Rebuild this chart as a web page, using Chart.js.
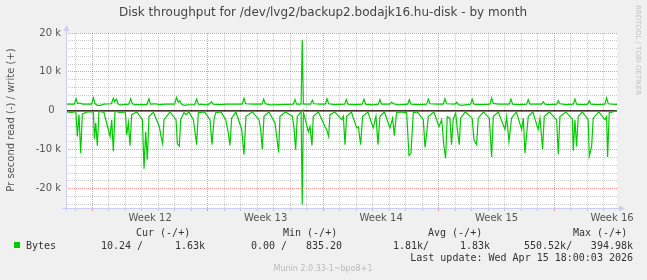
<!DOCTYPE html>
<html>
<head>
<meta charset="utf-8">
<script src="https://cdn.jsdelivr.net/npm/chart.js@4/dist/chart.umd.min.js"></script>
<style>
  html, body { margin: 0; padding: 0; background: #f0f0f0; }
  canvas { display: block; }
</style>
</head>
<body>
<canvas id="chart" width="647" height="280"></canvas>
<script>
// x values are days from the left edge of the graph
var X_MIN = 0;
var X_MAX = 33.4;
var Y_MIN = -25000;
var Y_MAX = 20000;

var weekLabels = ['Week 12', 'Week 13', 'Week 14', 'Week 15', 'Week 16'];
var weekStarts = [1.6, 8.6, 15.6, 22.6, 29.6];
var firstDayLine = 0.6;

// write (+)
var writeDays = [0, 0.5, 0.61, 0.7, 0.85, 1.0, 1.55, 1.66, 1.76, 1.9, 2.1, 2.3, 2.75, 2.87, 2.95, 3.05, 3.15, 3.3,
    3.8, 3.92, 4.02, 4.2, 4.9, 5.03, 5.12, 5.4, 5.7, 6.0, 6.58, 6.7, 6.8, 6.9, 7.0, 7.15, 7.35, 7.8, 7.92, 8.02,
    8.6, 8.82, 8.92, 9.3, 9.8, 10.0, 10.68, 10.79, 10.89, 11.3, 11.88, 11.98, 12.08, 12.4, 13.0, 13.78, 13.88,
    13.98, 14.25, 14.32, 14.39, 14.6, 14.83, 14.93, 15.03, 15.4, 15.72, 15.82, 15.92, 16.3, 16.89, 16.99, 17.09,
    17.5, 17.96, 18.06, 18.16, 18.6, 18.93, 19.03, 19.13, 19.64, 19.74, 19.84, 20.2, 20.71, 20.81, 20.91, 21.4,
    21.86, 21.96, 22.06, 22.5, 22.87, 22.97, 23.07, 23.58, 23.68, 23.78, 24.0, 24.52, 24.62, 24.72, 25.2, 25.7,
    25.8, 25.9, 26.2, 26.87, 26.97, 27.07, 27.5, 27.92, 28.02, 28.12, 28.83, 28.93, 29.03, 29.3, 29.74, 29.84,
    29.94, 30.3, 30.75, 30.85, 30.95, 31.3, 31.62, 31.72, 31.82, 32.2, 32.67, 32.77, 32.87, 33.1, 33.4];
var writeValues = [1700, 1700, 3100, 1900, 2000, 1700, 1700, 3300, 1800, 1400, 1400, 1700, 1800, 3200, 2300, 3000, 1800, 1500,
    1700, 3100, 1800, 1600, 1600, 3100, 1700, 1800, 1600, 1700, 1700, 3400, 2200, 2600, 1700, 1400, 1500, 1600, 3000, 1700,
    1500, 2300, 1700, 1600, 1700, 1700, 1700, 3200, 1800, 1700, 1700, 3000, 1800, 1500, 1600, 1700, 2900,
    1700, 1700, 18200, 1700, 1700, 1700, 2700, 1800, 1700, 1700, 3100, 1800, 1600, 1700, 2900, 1700,
    1600, 1700, 3000, 1700, 1500, 1700, 2900, 1700, 1700, 2200, 1800, 1500, 1700, 2900, 1700, 1600,
    1700, 3000, 1800, 1700, 1700, 3100, 1800, 1700, 2200, 1600, 1400, 1700, 3000, 1700, 1600, 1700,
    3300, 1900, 1700, 1700, 3000, 1700, 1600, 1700, 2900, 1700, 1700, 2300, 1700, 1600, 1700, 2600,
    1800, 1600, 1700, 3000, 1700, 1600, 1700, 2600, 1700, 1600, 1700, 3300, 1800, 1700, 1630];

// read (-)
var readDays = [0, 0.35, 0.6, 0.69, 0.79, 0.89, 0.99, 1.3, 1.66, 1.72, 1.8, 1.9, 2.0, 2.3, 2.67, 2.77, 2.87, 2.97,
    3.3, 3.6, 3.68, 3.78, 3.88, 3.98, 4.3, 4.63, 4.73, 4.83, 4.93, 5.03, 5.3, 5.66, 5.76, 5.86, 5.94, 6.3, 6.67,
    6.75, 6.87, 6.95, 7.15, 7.27, 7.45, 7.72, 7.8, 7.92, 8.02, 8.4, 8.73, 8.85, 8.97, 9.07, 9.4, 9.68, 9.84, 9.94,
    10.04, 10.3, 10.65, 10.79, 10.91, 11.3, 11.7, 11.8, 11.9, 12.0, 12.3, 12.67, 12.77, 12.89, 12.97, 13.3, 13.72,
    13.82, 13.92, 14.02, 14.25, 14.32, 14.39, 14.69, 14.79, 14.91, 14.99, 15.3, 15.7, 15.8, 15.92, 16.0, 16.3,
    16.71, 16.81, 16.91, 17.01, 17.3, 17.62, 17.72, 17.86, 17.98, 18.3, 18.62, 18.79, 18.91, 19.03, 19.3, 19.64,
    19.8, 19.9, 20.04, 20.3, 20.65, 20.79, 20.91, 21.05, 21.3, 21.66, 21.76, 21.86, 21.96, 22.3, 22.61, 22.77,
    22.91, 23.01, 23.11, 23.27, 23.37, 23.47, 23.62, 23.72, 23.84, 23.92, 24.2, 24.62, 24.73, 24.89, 24.99, 25.3,
    25.66, 25.8, 25.9, 26.2, 26.61, 26.71, 26.85, 27.01, 27.3, 27.62, 27.72, 27.82, 28.02, 28.3, 28.62, 28.73,
    28.89, 28.99, 29.3, 29.64, 29.74, 29.84, 29.94, 30.3, 30.69, 30.75, 30.85, 30.95, 31.05, 31.3, 31.65, 31.72,
    31.86, 31.96, 32.3, 32.67, 32.77, 32.83, 32.93, 33.2, 33.4];
var readValues = [-300, -400, -200, -6600, -1000, -10900, -800, -300, -200, -7200, -3100, -9000, -100, -400, -6600, -2300, -10400, -100,
    -500, -300, -6200, -3100, -9000, -1000, -300, -2300, -14900, -5400, -12600, -1500, -400, -4100, -6600, -8500, -2300, -300, -2300,
    -8500, -9100, -2300, -500, -1000, -300, -2300, -4800, -8700, -500, -300, -2300, -8700, -2300, -500, -300, -2300, -5700, -8900,
    -1900, -300, -4800, -11300, -1400, -300, -2300, -4800, -9800, -1400, -300, -3100, -6600, -10700, -1400, -300, -1400,
    -4400, -10000, -1400, -300, -24100, -300, -5400, -4100, -8900, -1400, -300, -4100, -4800, -6600, -1000, -300,
    -2300, -1400, -8700, -1400, -300, -4400, -4100, -8700, -1400, -300, -4400, -1400, -8700, -1400, -300, -4400,
    -1900, -6400, -500, -300, -500, -11500, -11000, -500, -300, -2300, -9400, -5900, -1500, -300, -4100, -2300,
    -9200, -12200, -1500, -1900, -8700, -2300, -500, -4800, -8700, -1900, -300, -1900, -7500, -8700, -1900, -300,
    -1900, -11900, -1500, -300, -4800, -1500, -7900, -1900, -300, -4800, -1900, -10900, -1500, -300, -4800, -1900,
    -9800, -1500, -300, -1900, -2300, -11200, -1500, -300, -2100, -10300, -2300, -9200, -1500, -300, -2300, -11700,
    -9200, -1900, -300, -2300, -1500, -11900, -500, -200, -10];

var legendHeaders = ['Cur (-/+)', 'Min (-/+)', 'Avg (-/+)', 'Max (-/+)'];
var legendRead = ['10.24 /', '0.00 /', '1.81k/', '550.52k/'];
var legendWrite = ['1.63k', '835.20', '1.83k', '394.98k'];

var GREEN = '#00cc00';
var MAJOR = 'rgba(240,0,0,0.42)';
var MINOR = 'rgba(128,128,128,0.4)';
var AXIS = '#ccccf4';

function toPoints(xs, ys) {
    var pts = [];
    for (var i = 0; i < xs.length; i++) pts.push({ x: xs[i], y: ys[i] });
    return pts;
}

function isWeekStart(v) {
    for (var i = 0; i < weekStarts.length; i++) {
        if (Math.abs(v - weekStarts[i]) < 0.01) return true;
    }
    return false;
}

function isLabelTick(v) {
    for (var i = 0; i < weekStarts.length; i++) {
        if (Math.abs(v - (weekStarts[i] + 3.5)) < 0.01) return i;
    }
    return -1;
}

var decor = {
    id: 'decor',
    beforeDraw: function(chart) {
        var ctx = chart.ctx;
        var a = chart.chartArea;
        ctx.save();
        ctx.fillStyle = '#f0f0f0';
        ctx.fillRect(0, 0, chart.width, chart.height);
        ctx.fillStyle = '#ffffff';
        ctx.fillRect(a.left, a.top, a.right - a.left, a.bottom - a.top);
        ctx.restore();
    },
    afterDraw: function(chart) {
        var ctx = chart.ctx;
        var a = chart.chartArea;
        ctx.save();

        // axes with arrows
        ctx.strokeStyle = AXIS;
        ctx.fillStyle = AXIS;
        ctx.lineWidth = 1;
        ctx.beginPath();
        ctx.moveTo(a.left + 0.5, a.bottom + 3);
        ctx.lineTo(a.left + 0.5, a.top - 4);
        ctx.moveTo(a.left - 4, a.bottom + 0.5);
        ctx.lineTo(a.right + 3, a.bottom + 0.5);
        ctx.stroke();
        ctx.beginPath();
        ctx.moveTo(a.left - 2.5, a.top - 2);
        ctx.lineTo(a.left + 3.5, a.top - 2);
        ctx.lineTo(a.left + 0.5, a.top - 8);
        ctx.closePath();
        ctx.fill();
        ctx.beginPath();
        ctx.moveTo(a.right + 2, a.bottom - 2.5);
        ctx.lineTo(a.right + 2, a.bottom + 3.5);
        ctx.lineTo(a.right + 8, a.bottom + 0.5);
        ctx.closePath();
        ctx.fill();

        // title
        ctx.fillStyle = '#444';
        ctx.font = '12px "DejaVu Sans"';
        ctx.textAlign = 'center';
        ctx.textBaseline = 'middle';
        ctx.fillText('Disk throughput for /dev/lvg2/backup2.bodajk16.hu-disk - by month', 323, 13);

        // y title
        ctx.save();
        ctx.translate(11, 120);
        ctx.rotate(-Math.PI / 2);
        ctx.font = '10px "DejaVu Sans"';
        ctx.fillStyle = '#555';
        ctx.fillText('Pr second read (-) / write (+)', 0, 0);
        ctx.restore();

        // credit
        ctx.save();
        ctx.translate(638, 5);
        ctx.rotate(Math.PI / 2);
        ctx.font = '7px "DejaVu Sans"';
        ctx.fillStyle = '#c4c4c4';
        ctx.textAlign = 'left';
        ctx.fillText('RRDTOOL / TOBI OETIKER', 0, 0);
        ctx.restore();

        // legend
        ctx.font = '10px "DejaVu Sans Mono"';
        ctx.fillStyle = '#333';
        ctx.textAlign = 'left';
        var headX = [136, 283, 428, 573];
        for (var i = 0; i < legendHeaders.length; i++) {
            ctx.fillText(legendHeaders[i], headX[i], 233);
        }
        ctx.fillStyle = GREEN;
        ctx.fillRect(14, 242, 6, 6);
        ctx.fillStyle = '#333';
        ctx.fillText('Bytes', 26, 246);
        var readX = [101, 251, 393, 524];
        var writeRight = [205, 342, 490, 633];
        for (var j = 0; j < legendRead.length; j++) {
            ctx.textAlign = 'left';
            ctx.fillText(legendRead[j], readX[j], 246);
            ctx.textAlign = 'right';
            ctx.fillText(legendWrite[j], writeRight[j], 246);
        }
        ctx.textAlign = 'right';
        ctx.fillText('Last update: Wed Apr 15 18:00:03 2026', 633, 258);

        ctx.textAlign = 'center';
        ctx.font = '8px "DejaVu Sans"';
        ctx.fillStyle = '#bbb';
        ctx.fillText('Munin 2.0.33-1~bpo8+1', 323, 269);
        ctx.restore();
    }
};

var ctx = document.getElementById('chart').getContext('2d');
new Chart(ctx, {
    type: 'line',
    data: {
        datasets: [{
            label: 'write',
            data: toPoints(writeDays, writeValues),
            borderColor: GREEN,
            borderWidth: 1.2,
            pointRadius: 0,
            tension: 0
        }, {
            label: 'read',
            data: toPoints(readDays, readValues),
            borderColor: GREEN,
            borderWidth: 1.2,
            pointRadius: 0,
            tension: 0
        }, {
            label: 'zero',
            data: [{ x: X_MIN, y: 0 }, { x: X_MAX, y: 0 }],
            borderColor: '#000000',
            borderWidth: 1.2,
            pointRadius: 0
        }]
    },
    options: {
        responsive: false,
        animation: false,
        layout: { padding: { left: 0, right: 30, top: 33, bottom: 52 } },
        plugins: { legend: { display: false }, tooltip: { enabled: false } },
        scales: {
            x: {
                type: 'linear',
                min: X_MIN,
                max: X_MAX,
                afterBuildTicks: function(scale) {
                    var ticks = [];
                    for (var d = firstDayLine; d < X_MAX; d += 1) ticks.push({ value: Math.round(d * 100) / 100 });
                    for (var i = 0; i < weekStarts.length; i++) ticks.push({ value: weekStarts[i] + 3.5 });
                    scale.ticks = ticks;
                },
                afterFit: function(scale) {
                    scale.height = 20;
                    scale.paddingLeft = 0;
                    scale.paddingRight = 0;
                },
                border: { display: false, dash: [1, 1] },
                grid: {
                    color: function(c) {
                        var v = c.tick ? c.tick.value : 0;
                        if (isLabelTick(v) >= 0) return 'rgba(0,0,0,0)';
                        return isWeekStart(v) ? MAJOR : MINOR;
                    },
                    tickColor: function(c) {
                        var v = c.tick ? c.tick.value : 0;
                        if (isLabelTick(v) >= 0) return 'rgba(0,0,0,0)';
                        return isWeekStart(v) ? MAJOR : MINOR;
                    },
                    tickLength: 3,
                    lineWidth: 1
                },
                ticks: {
                    autoSkip: false,
                    maxRotation: 0,
                    padding: 1,
                    color: '#555',
                    font: { family: 'DejaVu Sans', size: 10 },
                    callback: function(value) {
                        var k = isLabelTick(value);
                        return k >= 0 ? weekLabels[k] : '';
                    }
                }
            },
            y: {
                min: Y_MIN,
                max: Y_MAX,
                afterBuildTicks: function(scale) {
                    var ticks = [];
                    for (var v = -24000; v <= Y_MAX; v += 2000) ticks.push({ value: v });
                    scale.ticks = ticks;
                },
                afterFit: function(scale) {
                    scale.width = 66;
                    scale.paddingTop = 0;
                    scale.paddingBottom = 0;
                },
                border: { display: false, dash: [1, 1] },
                grid: {
                    color: function(c) {
                        var v = c.tick ? c.tick.value : 0;
                        return v % 10000 === 0 ? MAJOR : MINOR;
                    },
                    drawTicks: false,
                    lineWidth: 1
                },
                ticks: {
                    autoSkip: false,
                    padding: 5,
                    color: '#555',
                    font: { family: 'DejaVu Sans', size: 10 },
                    callback: function(value) {
                        if (value % 10000 !== 0) return '';
                        if (value === 0) return '0  ';
                        return (value / 1000) + ' k';
                    }
                }
            }
        }
    },
    plugins: [decor]
});
</script>
</body>
</html>
